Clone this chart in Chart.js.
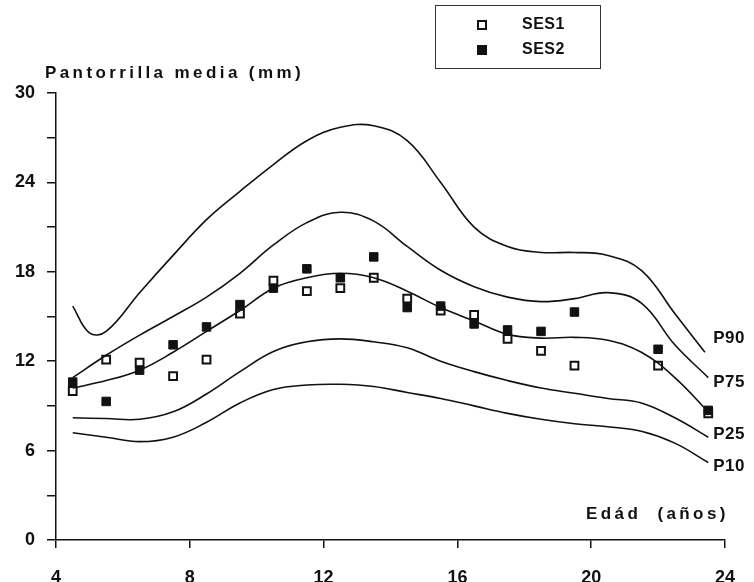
<!DOCTYPE html>
<html>
<head>
<meta charset="utf-8">
<script src="https://cdn.jsdelivr.net/npm/chart.js@4/dist/chart.umd.min.js"></script>
<style>
  html, body { margin: 0; padding: 0; background: #fff; }
  #chart { display: block; }
</style>
</head>
<body>
<canvas id="chart" width="754" height="582"></canvas>
<script>
// ─── Data ─────────────────────────────────────────────
const sampleAges = [4.5, 5.5, 6.5, 7.5, 8.5, 9.5, 10.5, 11.5, 12.5, 13.5, 14.5, 15.5, 16.5, 17.5, 18.5, 19.5, 22, 23.5];
const ses1 = [10.0, 12.1, 11.9, 11.0, 12.1, 15.2, 17.4, 16.7, 16.9, 17.6, 16.2, 15.4, 15.1, 13.5, 12.7, 11.7, 11.7, 8.5];
const ses2 = [10.6, 9.3, 11.4, 13.1, 14.3, 15.8, 16.9, 18.2, 17.6, 19.0, 15.6, 15.7, 14.5, 14.1, 14.0, 15.3, 12.8, 8.7];

const curveAges = [4.5, 5.5, 6.5, 7.5, 8.5, 9.5, 10.5, 11.5, 12.5, 13.5, 14.5, 15.5, 16.5, 17.5, 18.5, 19.5, 20.5, 21.5, 22.5, 23.5];
const p90Ages   = [4.5, 5.0, 5.5, 6.5, 7.5, 8.5, 9.5, 10.5, 11.5, 12.5, 13.5, 14.5, 15.5, 16.5, 17.5, 18.5, 19.5, 20.5, 21.5, 22.5, 23.4];
const p90 = [15.7, 13.9, 14.0, 16.6, 19.1, 21.5, 23.4, 25.2, 26.8, 27.7, 27.8, 26.8, 24.0, 21.0, 19.7, 19.3, 19.3, 19.1, 18.1, 15.2, 12.6];
const p75 = [10.9, 12.4, 13.75, 15.0, 16.3, 17.9, 19.8, 21.3, 22.0, 21.4, 19.7, 18.1, 17.0, 16.3, 16.0, 16.2, 16.6, 15.9, 13.1, 10.9];
const p50 = [10.2, 10.7, 11.4, 12.6, 14.0, 15.4, 16.9, 17.6, 17.9, 17.6, 16.7, 15.6, 14.7, 13.8, 13.55, 13.6, 13.4, 12.6, 10.9, 8.6];
const p25 = [8.2, 8.15, 8.1, 8.6, 9.8, 11.3, 12.65, 13.3, 13.5, 13.3, 12.9, 12.0, 11.3, 10.7, 10.2, 9.85, 9.5, 9.2, 8.2, 6.9];
const p10 = [7.2, 6.9, 6.6, 6.9, 7.9, 9.2, 10.1, 10.4, 10.45, 10.3, 9.9, 9.5, 9.0, 8.5, 8.1, 7.8, 7.6, 7.3, 6.5, 5.2];

const curveLabels = ['P90', 'P75', 'P25', 'P10'];
const yTicks = [0, 6, 12, 18, 24, 30];
const xTicks = [4, 8, 12, 16, 20, 24];

// ─── Helpers ──────────────────────────────────────────
const pts = (xs, ys) => xs.map((x, i) => ({ x, y: ys[i] }));
const FONT = '"Liberation Sans", Arial, sans-serif';

function curve(label, ages, vals) {
    return {
        label, data: pts(ages, vals), showLine: true,
        borderColor: '#111', borderWidth: 1.6, pointRadius: 0,
        tension: 0.4, fill: false,
    };
}

// ─── Overlay text: title, axis name, legend, P labels ─
const overlay = {
    id: 'overlay',
    afterDraw(chart) {
        const { ctx, scales: { x, y } } = chart;
        ctx.save();
        ctx.fillStyle = '#111';
        ctx.textBaseline = 'middle';

        ctx.font = `bold 17px ${FONT}`;
        ctx.letterSpacing = '3.4px';
        ctx.textAlign = 'left';
        ctx.fillText('Pantorrilla media (mm)', 45, 73);
        ctx.fillText('Edád  (años)', 586, 514);

        // percentile labels next to curve ends
        ctx.letterSpacing = '0.5px';
        ctx.font = `bold 17px ${FONT}`;
        const ends = [
            { v: p90[p90.length - 1], dy: -14 },
            { v: p75[p75.length - 1], dy: 5 },
            { v: p25[p25.length - 1], dy: -3 },
            { v: p10[p10.length - 1], dy: 4 },
        ];
        const lx = x.getPixelForValue(curveAges[curveAges.length - 1]) + 5;
        curveLabels.forEach((t, i) => {
            ctx.fillText(t, lx, y.getPixelForValue(ends[i].v) + ends[i].dy);
        });

        // legend box
        ctx.strokeStyle = '#333';
        ctx.lineWidth = 1;
        ctx.strokeRect(435.5, 5.5, 165, 63);
        ctx.font = `bold 16px ${FONT}`;
        ctx.letterSpacing = '0.5px';
        ctx.fillText('SES1', 522, 25);
        ctx.fillText('SES2', 522, 50);
        ctx.lineWidth = 2;
        ctx.strokeStyle = '#111';
        ctx.fillStyle = '#fff';
        ctx.fillRect(478, 21, 8, 8);
        ctx.strokeRect(478, 21, 8, 8);
        ctx.fillStyle = '#111';
        ctx.fillRect(477, 45, 10, 10);
        ctx.restore();
    },
};

// ─── Chart ───────────────────────────────────────────
new Chart(document.getElementById('chart'), {
    type: 'scatter',
    data: {
        datasets: [
            curve('P90', p90Ages, p90),
            curve('P75', curveAges, p75),
            curve('P50', curveAges, p50),
            curve('P25', curveAges, p25),
            curve('P10', curveAges, p10),
            {
                label: 'SES2', data: pts(sampleAges, ses2),
                pointStyle: 'rect', pointRadius: 6,
                backgroundColor: '#111', borderColor: '#111', borderWidth: 1,
            },
            {
                label: 'SES1', data: pts(sampleAges, ses1),
                pointStyle: 'rect', pointRadius: 5.5,
                backgroundColor: '#fff', borderColor: '#111', borderWidth: 2,
            },
        ],
    },
    options: {
        responsive: false,
        animation: false,
        layout: { padding: { top: 93, right: 26, left: 0, bottom: 0 } },
        plugins: { legend: { display: false }, tooltip: { enabled: false } },
        scales: {
            x: {
                type: 'linear', min: 4, max: 24,
                afterBuildTicks: s => { s.ticks = xTicks.map(v => ({ value: v })); },
                afterFit: s => { s.height = 42; },
                ticks: { color: '#111', font: { family: FONT, size: 18, weight: 'bold' }, padding: 19, maxRotation: 0 },
                grid: { drawOnChartArea: false, drawTicks: true, tickLength: 8, color: '#111', lineWidth: 1.5 },
                border: { color: '#111', width: 1.5 },
            },
            y: {
                min: 0, max: 30,
                ticks: {
                    stepSize: 3, color: '#111', padding: 12,
                    font: { family: FONT, size: 18, weight: 'bold' },
                    callback: v => (yTicks.includes(v) ? v : ''),
                },
                afterFit: s => { s.width = 56; },
                grid: { drawOnChartArea: false, drawTicks: true, tickLength: 9, color: '#111', lineWidth: 1.5 },
                border: { color: '#111', width: 1.5 },
            },
        },
    },
    plugins: [overlay],
});
</script>
</body>
</html>
